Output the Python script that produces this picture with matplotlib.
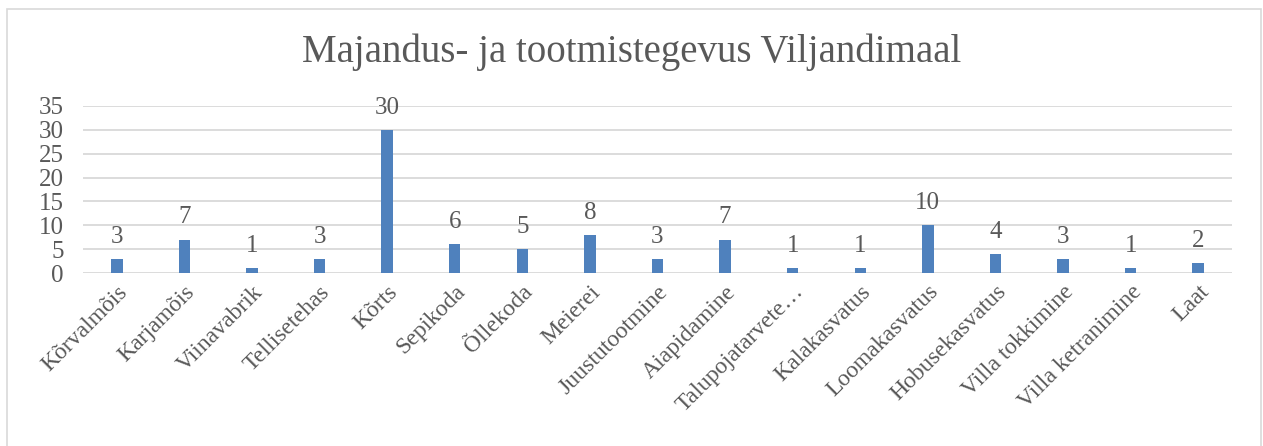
import matplotlib.pyplot as plt
from matplotlib.patches import Rectangle

categories = ['Kõrvalmõis', 'Karjamõis', 'Viinavabrik', 'Tellisetehas', 'Kõrts', 'Sepikoda',
              'Õllekoda', 'Meierei', 'Juustutootmine', 'Aiapidamine', 'Talupojatarvete…',
              'Kalakasvatus', 'Loomakasvatus', 'Hobusekasvatus', 'Villa tokkimine',
              'Villa ketranimine', 'Laat']
values = [3, 7, 1, 3, 30, 6, 5, 8, 3, 7, 1, 1, 10, 4, 3, 1, 2]
yticks = [0, 5, 10, 15, 20, 25, 30, 35]

plt.rcParams['font.family'] = ['Liberation Serif', 'DejaVu Serif']
text_col = '#595959'

fig = plt.figure(figsize=(12.63, 4.46), dpi=100)
ax = fig.add_axes([83 / 1263, 1 - 273 / 446, (1232 - 83) / 1263, (273 - 106) / 446])

x = range(len(categories))
bars = ax.bar(x, values, width=0.17, color='#4F81BD', zorder=3)
for b, v in zip(bars, values):
    ax.annotate(str(v), (b.get_x() + b.get_width() / 2, v), xytext=(0, 8),
                textcoords='offset points', ha='center', va='bottom',
                fontsize=18, color=text_col)

ax.set_xlim(-0.5, len(categories) - 0.5)
ax.set_ylim(0, 35)
ax.set_yticks(yticks)
ax.yaxis.grid(True, color='#d9d9d9', linewidth=1.3, zorder=0)
ax.set_xticks(list(x))
ax.set_xticklabels(categories, rotation=45, ha='right', rotation_mode='anchor',
                   fontsize=17, color=text_col)
ax.tick_params(axis='y', labelsize=18, labelcolor=text_col, length=0, pad=14)
ax.tick_params(axis='x', length=0, pad=6)
for s in ax.spines.values():
    s.set_visible(False)

fig.text(0.5, 1 - 52 / 446, 'Majandus- ja tootmistegevus Viljandimaal', ha='center', va='center',
         fontsize=28, color=text_col)

fig.patches.append(Rectangle((7 / 1263, -0.01), (1261 - 7) / 1263, 1 - 9 / 446 + 0.01,
                             transform=fig.transFigure, fill=False, edgecolor='#d9d9d9',
                             linewidth=1.2))

fig.savefig('out.png', dpi=100)
